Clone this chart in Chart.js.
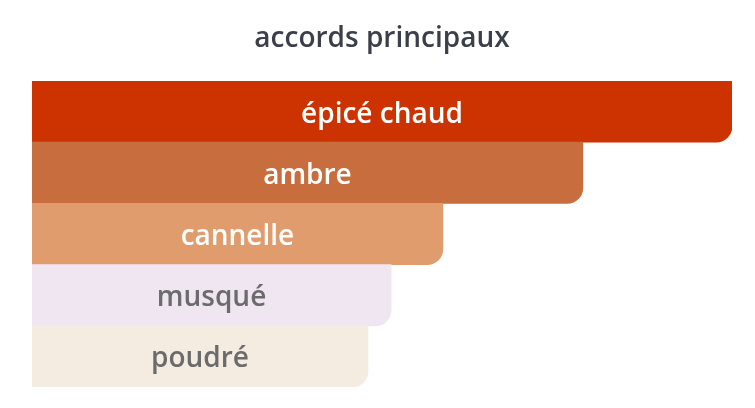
<!DOCTYPE html>
<html>
<head>
<meta charset="utf-8">
<script src="https://cdn.jsdelivr.net/npm/chart.js@4/dist/chart.umd.min.js"></script>
<style>
  html, body { margin: 0; padding: 0; background: #fff; }
  #box { width: 755px; height: 408px; }
</style>
</head>
<body>
<div id="box"><canvas id="graficoAccords"></canvas></div>
<script>
// Données
const accords = ['épicé chaud', 'ambre', 'cannelle', 'musqué', 'poudré'];
const intensite = [100, 78.7, 58.7, 51.3, 48];
const couleurs = ['#cc3300', '#c86d3e', '#e19c6e', '#efe6f2', '#f4ebe1'];
const couleursTexte = ['#ffffff', '#ffffff', '#ffffff', '#6b6b6b', '#6b6b6b'];

const police = "'Open Sans', 'Noto Sans', sans-serif";

// Étiquettes centrées dans chaque barre
const etiquettes = {
  id: 'etiquettes',
  afterDatasetsDraw(chart) {
    const c = chart.ctx;
    const meta = chart.getDatasetMeta(0);
    c.save();
    c.font = '600 28px ' + police;
    c.textAlign = 'center';
    c.textBaseline = 'middle';
    meta.data.forEach((bar, i) => {
      const p = bar.getProps(['x', 'y', 'base'], true);
      c.fillStyle = couleursTexte[i];
      c.fillText(accords[i], (p.x + p.base) / 2, p.y + 3);
    });
    c.restore();
  }
};

const ctx = document.getElementById('graficoAccords').getContext('2d');

const graficoAccords = new Chart(ctx, {
  type: 'bar',
  data: {
    labels: accords,
    datasets: [{
      data: intensite,
      backgroundColor: couleurs,
      borderRadius: { topLeft: 0, topRight: 0, bottomLeft: 0, bottomRight: 16 },
      borderSkipped: false,
      barPercentage: 1,
      categoryPercentage: 1
    }]
  },
  options: {
    indexAxis: 'y',
    responsive: true,
    maintainAspectRatio: false,
    animation: false,
    layout: { padding: { left: 32, right: 23, top: 0, bottom: 21 } },
    plugins: {
      legend: { display: false },
      tooltip: { enabled: false },
      title: {
        display: true,
        text: 'accords principaux',
        color: '#3b3f4a',
        font: { family: police, size: 28, weight: '600' },
        padding: { top: 22, bottom: 25.4 }
      }
    },
    scales: {
      x: { display: false, min: 0, max: 100 },
      y: { display: false }
    }
  },
  plugins: [etiquettes]
});
</script>
</body>
</html>
